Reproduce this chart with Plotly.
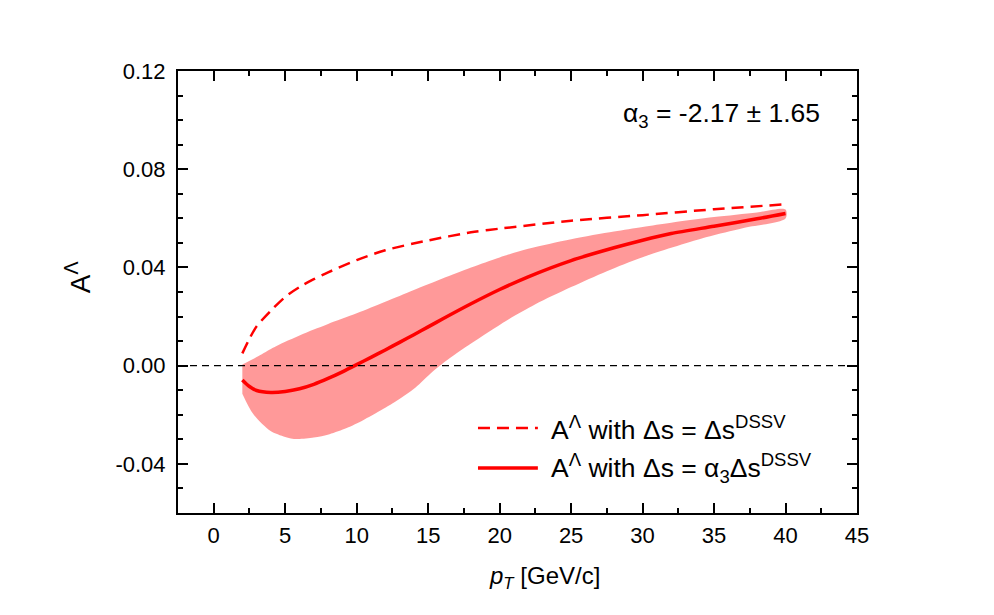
import plotly.graph_objects as go

# ---- data ----
dash_x = [2, 2.5, 3, 4, 5, 6, 7, 8, 10, 12, 15, 18, 20, 25, 30, 35, 40]
dash_y = [0.005, 0.011, 0.016, 0.0224, 0.028, 0.032, 0.0352, 0.038, 0.043, 0.047, 0.051, 0.0543,
          0.0558, 0.059, 0.0613, 0.0637, 0.0657]

solid_x = [2, 2.5, 3, 4, 5, 6, 7, 8, 9, 10, 11, 12, 13, 14, 15, 16, 18, 20, 22, 25, 28, 30, 32, 35, 38, 40]
solid_y = [-0.0058, -0.0085, -0.0101, -0.0109, -0.0105, -0.0094, -0.0076, -0.0052, -0.0025, 0.0004,
           0.0034, 0.0064, 0.0095, 0.0126, 0.0158, 0.019, 0.0252, 0.031, 0.0362, 0.0428, 0.048,
           0.0511, 0.0538, 0.0568, 0.0598, 0.062]

upper_x = [2, 3, 4, 5, 6, 7, 8, 10, 12, 14, 16, 18, 20, 22, 25, 28, 30, 32, 35, 38, 40]
upper_y = [0.0005, 0.0035, 0.0068, 0.0097, 0.0123, 0.0147, 0.017, 0.0213, 0.026, 0.0308, 0.0355,
           0.040, 0.0441, 0.0476, 0.0515, 0.0546, 0.0565, 0.0582, 0.0605, 0.0624, 0.0636]

lower_x = [2, 2.75, 3.95, 5, 5.8, 7, 8.1, 9.3, 10.45, 11.6, 12.8, 14.1, 15.3, 16.5, 18, 20.5,
           22.5, 25, 27.5, 30, 34.5, 37, 40]
lower_y = [-0.0114, -0.0196, -0.0265, -0.029, -0.0299, -0.0293, -0.0279, -0.0254, -0.0222, -0.0185,
           -0.0143, -0.009, -0.0025, 0.003, 0.009, 0.0184, 0.025, 0.032, 0.0385, 0.0442, 0.0524,
           0.056, 0.0599]

x_ticks = [0, 5, 10, 15, 20, 25, 30, 35, 40, 45]
y_ticks = [-0.04, 0.0, 0.04, 0.08, 0.12]
y_tick_text = ["-0.04", "0.00", "0.04", "0.08", "0.12"]

FONT = "Arial, Liberation Sans, sans-serif"
RED = "#FF0000"

fig = go.Figure()

# uncertainty band
fig.add_trace(go.Scatter(
    x=upper_x + lower_x[::-1], y=upper_y + lower_y[::-1],
    fill="toself", fillcolor="rgba(255,0,0,0.40)", line=dict(width=0, shape="spline", smoothing=0.8),
    mode="lines", hoverinfo="skip", showlegend=False))

# dashed curve
fig.add_trace(go.Scatter(x=dash_x, y=dash_y, mode="lines",
                         line=dict(color=RED, width=2.5, dash="12px,7px", shape="spline", smoothing=0.8),
                         showlegend=False))
# solid curve
fig.add_trace(go.Scatter(x=solid_x, y=solid_y, mode="lines",
                         line=dict(color=RED, width=3.5, shape="spline", smoothing=0.8),
                         showlegend=False))

# zero line
fig.add_shape(type="line", xref="paper", x0=0, x1=1, yref="y", y0=0, y1=0,
              line=dict(color="black", width=1.3, dash="7px,5px"), layer="above")

# manual legend
leg_y = [0.1923, 0.1018]
fig.add_shape(type="line", xref="paper", yref="paper", x0=0.4418, x1=0.530, y0=leg_y[0], y1=leg_y[0],
              line=dict(color=RED, width=2.5, dash="12px,7px"))
fig.add_shape(type="line", xref="paper", yref="paper", x0=0.4418, x1=0.530, y0=leg_y[1], y1=leg_y[1],
              line=dict(color=RED, width=3.5))
fig.add_annotation(xref="paper", yref="paper", x=0.5464, y=leg_y[0], xanchor="left", yanchor="middle",
                   text="A<sup>Λ</sup> with Δs = Δs<sup>DSSV</sup>", showarrow=False,
                   font=dict(family=FONT, size=26.5, color="black"))
fig.add_annotation(xref="paper", yref="paper", x=0.5464, y=leg_y[1], xanchor="left", yanchor="middle",
                   text="A<sup>Λ</sup> with Δs = α<sub>3</sub>Δs<sup>DSSV</sup>", showarrow=False,
                   font=dict(family=FONT, size=26.5, color="black"))

# alpha annotation
fig.add_annotation(xref="paper", yref="paper", x=0.948, y=0.900, xanchor="right", yanchor="middle",
                   text="α<sub>3</sub> = -2.17 ± 1.65", showarrow=False,
                   font=dict(family=FONT, size=26.5, color="black"))

# axis titles as annotations
fig.add_annotation(xref="paper", yref="paper", x=0.54, y=-0.147, xanchor="center", yanchor="middle",
                   text="<i>p<sub>T</sub></i> [GeV/c]", showarrow=False,
                   font=dict(family=FONT, size=24, color="black"))
fig.add_annotation(xref="paper", yref="paper", x=-0.147, y=0.534, xanchor="center", yanchor="middle",
                   text="A<sup>Λ</sup>", textangle=-90, showarrow=False,
                   font=dict(family=FONT, size=28, color="black"))

axis_common = dict(
    showline=True, linecolor="black", linewidth=2, mirror="allticks",
    ticks="inside", ticklen=10, tickwidth=2, tickcolor="black",
    showgrid=False, zeroline=False,
    tickfont=dict(family=FONT, size=22, color="black"),
)

fig.update_xaxes(range=[-2.5, 45], tickvals=x_ticks,
                 minor=dict(dtick=2.5, tick0=0, ticks="inside", ticklen=5, tickwidth=2, tickcolor="black", showgrid=False),
                 ticklabelstandoff=2, **axis_common)
fig.update_yaxes(range=[-0.06, 0.12], tickvals=y_ticks, ticktext=y_tick_text,
                 minor=dict(dtick=0.01, tick0=0, ticks="inside", ticklen=5, tickwidth=2, tickcolor="black", showgrid=False),
                 ticklabelstandoff=6, **axis_common)

fig.update_layout(
    width=994, height=615,
    margin=dict(l=178, r=137, t=71, b=102),
    paper_bgcolor="white", plot_bgcolor="white",
    showlegend=False,
    font=dict(family=FONT, color="black"),
)

fig.write_html("out.html")
